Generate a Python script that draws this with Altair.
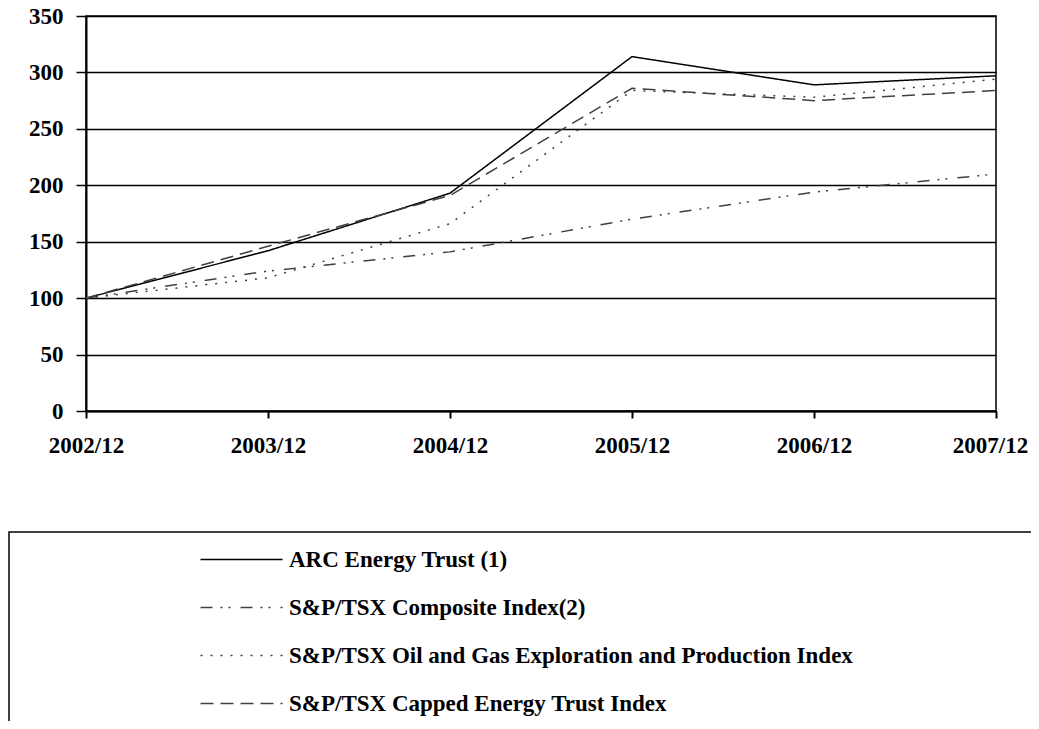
import altair as alt
import pandas as pd

dates = ["2002/12", "2003/12", "2004/12", "2005/12", "2006/12", "2007/12"]
series = [
    "ARC Energy Trust (1)",
    "S&P/TSX Composite Index(2)",
    "S&P/TSX Oil and Gas Exploration and Production Index",
    "S&P/TSX Capped Energy Trust Index",
]
arc = [100, 142, 193, 314, 289, 297]
composite = [100, 124, 141, 170, 194, 210]
oil_gas = [100, 118, 166, 284, 278, 294]
capped = [100, 146, 191, 286, 275, 284]

colors = ["#000000", "#404040", "#404040", "#404040"]
dashes = [[1, 0], [12, 8, 2, 6, 2, 10], [2, 8], [13, 7]]

rows = []
for name, vals in zip(series, [arc, composite, oil_gas, capped]):
    for d, v in zip(dates, vals):
        rows.append({"date": d, "value": v, "series": name})
df = pd.DataFrame(rows)
df["order"] = df["series"].map({s: i for i, s in enumerate(series)})

FONT = "Liberation Serif"

leg = alt.Legend(
    title=None,
    orient="none",
    legendX=134,
    legendY=522,
    symbolType="M-2,0H2",
    symbolSize=1681,
    symbolStrokeWidth=1.5,
    labelFont=FONT,
    labelFontSize=23,
    labelFontWeight="bold",
    labelColor="black",
    labelLimit=900,
    labelOffset=26,
    rowPadding=14,
    padding=0,
)

lines = alt.Chart(df).mark_line(strokeWidth=1.5).encode(
    x=alt.X(
        "date:O",
        sort=dates,
        scale=alt.Scale(type="point", padding=0),
        axis=alt.Axis(
            title=None, labelAngle=0, tickSize=7, labelPadding=16,
            grid=False, domainWidth=2, tickWidth=2,
            labelOffset=alt.expr("datum.label == '2007/12' ? -6 : 0"),
        ),
    ),
    y=alt.Y(
        "value:Q",
        scale=alt.Scale(domain=[0, 350], nice=False),
        axis=alt.Axis(
            title=None, values=[0, 50, 100, 150, 200, 250, 300, 350],
            grid=True, gridColor="black", gridWidth=1.5, gridOpacity=1,
            tickSize=10, labelPadding=13, domainWidth=2, tickWidth=1.5,
        ),
    ),
    color=alt.Color("series:N", scale=alt.Scale(domain=series, range=colors), legend=leg),
    strokeDash=alt.StrokeDash("series:N", scale=alt.Scale(domain=series, range=dashes), legend=leg),
    order=alt.Order("order:Q", sort="descending"),
)

box = alt.Chart(pd.DataFrame({"a": [0]})).mark_rect(
    fill="white", fillOpacity=0, stroke="black", strokeWidth=1.5
).encode(
    x=alt.value(-77), x2=alt.value(1000), y=alt.value(516), y2=alt.value(760)
)

chart = alt.layer(box, lines).properties(
    width=910,
    height=395,
    autosize=alt.AutoSizeParams(type="none"),
    padding={"left": 78, "top": 8, "right": 35, "bottom": 310},
).configure_view(
    stroke="black", strokeWidth=1.5
).configure_axis(
    labelFont=FONT, labelFontSize=23, labelFontWeight="bold", labelColor="black",
    domainColor="black", tickColor="black",
)

chart.save("out.html", embed_options={"renderer": "svg", "actions": False})
